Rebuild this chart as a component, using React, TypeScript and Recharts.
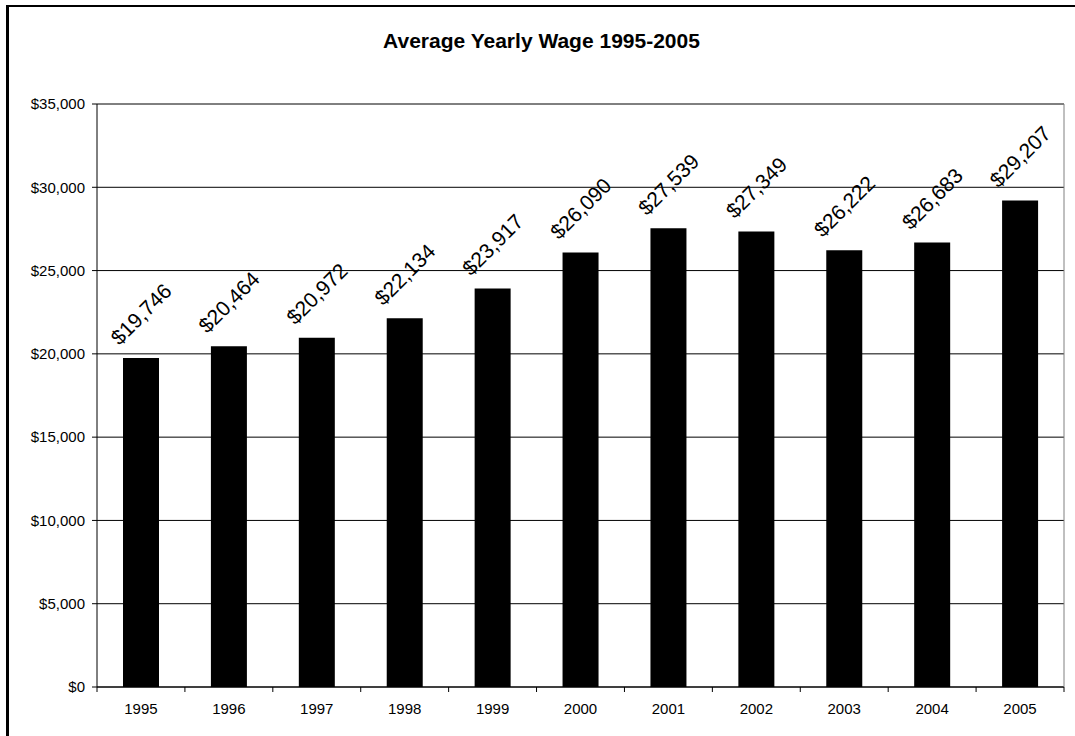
import { Bar, BarChart, CartesianGrid, LabelList, ReferenceLine, XAxis, YAxis } from "recharts";

const years = ["1995", "1996", "1997", "1998", "1999", "2000", "2001", "2002", "2003", "2004", "2005"];
const wages = [19746, 20464, 20972, 22134, 23917, 26090, 27539, 27349, 26222, 26683, 29207];
const wageTicks = [0, 5000, 10000, 15000, 20000, 25000, 30000, 35000];

const FONT = '"Liberation Sans", Arial, sans-serif';
const TICK_MARGIN = 16;

const rows = years.map((year, i) => ({ year, wage: wages[i] }));

const money = (v: number) => `$${v.toLocaleString("en-US")}`;

/** Dollar label tilted 45° above each bar. */
function WageLabel(props: any) {
  const { x, y, width, value } = props;
  const cx = Number(x) + Number(width) / 2;
  const cy = Number(y) - 44;
  return (
    <text
      x={cx}
      y={cy}
      textAnchor="middle"
      dominantBaseline="central"
      transform={`rotate(-45, ${cx}, ${cy})`}
      fontFamily={FONT}
      fontSize={21}
      fill="#000"
    >
      {money(Number(value))}
    </text>
  );
}

/** Year label plus the short tick marks that sit between year columns. */
function YearTick(props: any) {
  const { x, y, payload, index, width } = props;
  const half = payload?.offset ? Number(payload.offset) : Number(width) / years.length / 2;
  const axisY = Number(y) - TICK_MARGIN;
  const left = Number(x) - half;
  const right = Number(x) + half;
  return (
    <g>
      <line x1={left} x2={left} y1={axisY} y2={axisY + 5} stroke="#000" />
      {index === years.length - 1 && (
        <line x1={right} x2={right} y1={axisY} y2={axisY + 5} stroke="#000" />
      )}
      <text
        x={x}
        y={y}
        dy="0.71em"
        textAnchor="middle"
        fontFamily={FONT}
        fontSize={15}
        fill="#000"
      >
        {payload.value}
      </text>
    </g>
  );
}

const NoTick = () => <g />;

export default function App() {
  return (
    <div
      style={{
        position: "absolute",
        left: 0,
        top: 0,
        width: 1075,
        height: 736,
        overflow: "hidden",
        background: "#fff",
        fontFamily: FONT,
      }}
    >
      <div
        style={{
          position: "absolute",
          left: 6,
          top: 5,
          width: 1100,
          height: 760,
          borderLeft: "3px solid #000",
          borderTop: "2px solid #000",
        }}
      />
      <div
        style={{
          position: "absolute",
          left: 0,
          top: 30,
          width: 1083,
          textAlign: "center",
          fontSize: 21,
          lineHeight: "21px",
          fontWeight: "bold",
          color: "#000",
        }}
      >
        Average Yearly Wage 1995-2005
      </div>
      <div style={{ position: "absolute", left: 0, top: 0 }}>
        <BarChart
          width={1075}
          height={736}
          data={rows}
          margin={{ top: 104, right: 10, bottom: 0, left: 0 }}
        >
          <CartesianGrid horizontal vertical={false} stroke="#000" />
          <ReferenceLine y={35000} stroke="#808080" />
          <XAxis
            dataKey="year"
            height={49}
            tickSize={0}
            tickMargin={TICK_MARGIN}
            tickLine={false}
            axisLine={{ stroke: "#000" }}
            interval={0}
            tick={<YearTick />}
          />
          <YAxis
            width={97}
            domain={[0, 35000]}
            ticks={wageTicks}
            tickFormatter={money}
            tickSize={5}
            tickMargin={7}
            tickLine={{ stroke: "#000" }}
            axisLine={{ stroke: "#000" }}
            tick={{ fill: "#000", fontSize: 15, fontFamily: FONT }}
          />
          <YAxis
            yAxisId="right"
            orientation="right"
            width={1}
            domain={[0, 35000]}
            ticks={wageTicks}
            tick={NoTick}
            tickLine={false}
            axisLine={{ stroke: "#808080" }}
          />
          <Bar dataKey="wage" fill="#000" barSize={36} isAnimationActive={false}>
            <LabelList dataKey="wage" content={<WageLabel />} />
          </Bar>
        </BarChart>
      </div>
    </div>
  );
}
